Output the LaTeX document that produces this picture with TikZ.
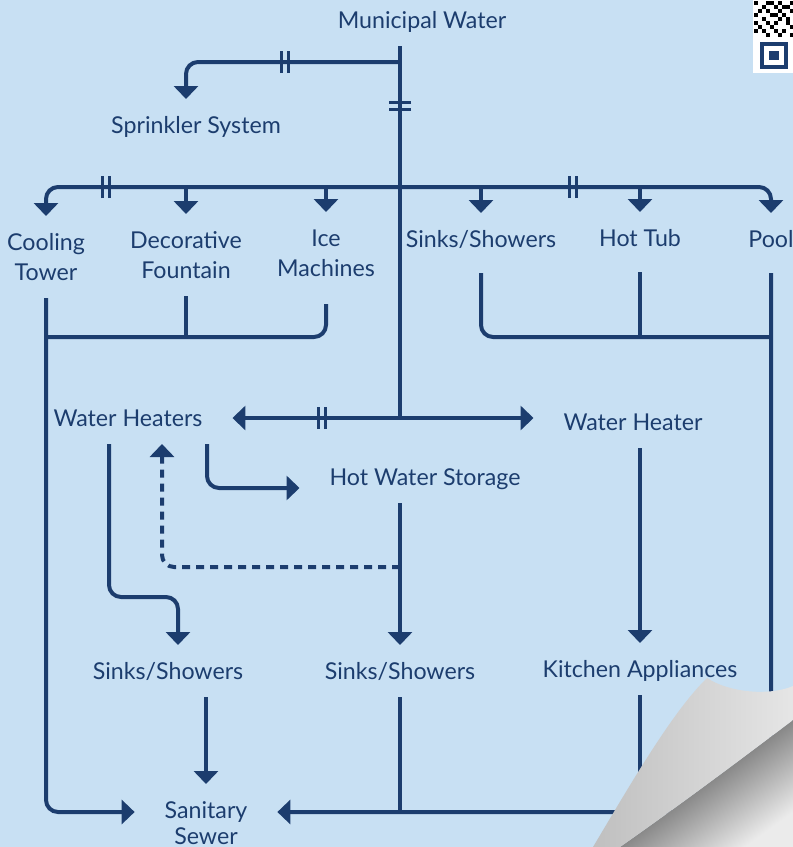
\documentclass[tikz,border=0pt]{standalone}
\usepackage{fontspec}
\setmainfont{Lato}
\usepackage{tikz}
\usetikzlibrary{arrows.meta}

\definecolor{paper}{HTML}{C8E0F3}
\definecolor{navy}{HTML}{1C3D6E}

\begin{document}
\begin{tikzpicture}[x=0.5pt,y=-0.5pt,>={Triangle[width=12pt,length=6.5pt]},
	fixture/.style={text=navy,align=center,inner sep=0pt,outer xsep=15pt,outer ysep=9pt,text height=8pt,text depth=0pt,font=\fontsize{11.6}{15}\selectfont},
	twoline/.style={fixture,text height=23pt},
	pipe/.style={draw=navy,line width=2pt,rounded corners=6pt},
	breaker/.pic={\draw [navy,line width=1.6pt] (-1.8pt,-5.5pt) -- (-1.8pt,5.5pt) (1.8pt,-5.5pt) -- (1.8pt,5.5pt);}]
	
	\path [use as bounding box,fill=paper] (0,0) rectangle (793,847);
	\clip (0,0) rectangle (793,847);
	
	\node (mw) [fixture] at (422,20) {Municipal Water};
	\node (sprinkler) [fixture] at (196,125) {Sprinkler System};
	\node (cooling) [twoline] at (46,257) {Cooling\\Tower};
	\node (fountain) [twoline] at (186,255) {Decorative\\Fountain};
	\node (ice) [twoline] at (326,253) {Ice\\Machines};
	\node (sinksA) [fixture] at (481,239) {Sinks/Showers};
	\node (tub) [fixture] at (640,238) {Hot Tub};
	\node (pool) [fixture] at (771,239) {Pool};
	\node (heaters) [fixture] at (128,418) {Water Heaters};
	\node (heater) [fixture] at (633,422) {Water Heater};
	\node (storage) [fixture] at (425,477) {Hot Water Storage};
	\node (sinksB) [fixture] at (168,671) {Sinks/Showers};
	\node (sinksC) [fixture] at (400,671) {Sinks/Showers};
	\node (kitchen) [fixture] at (640,669) {Kitchen Appliances};
	\node (sewer) [twoline,text height=21pt,font=\fontsize{11.6}{13}\selectfont] at (206,823) {Sanitary\\Sewer};
	
	\coordinate (tee) at (400,62);
	\coordinate (hub) at (400,187);
	\coordinate (split) at (400,418);
	\coordinate (tap) at (400,567);
	\coordinate (jog) at (140,597);
	\coordinate (drainL) at (46,337);
	\coordinate (drainR) at (771,337);
	\coordinate (drainB) at (400,812);
	
	\draw [pipe] (mw.south -| hub) -- (split);
	\draw [pipe,->] (tee) -| ([xshift=-5pt]sprinkler.north);
	\draw [pipe,->] (hub) -| (cooling.north);
	\draw [pipe,->] (hub) -| (pool.north);
	\draw [pipe,->] (hub -| fountain) -- (fountain.north);
	\draw [pipe,->] (hub -| ice) -- (ice.north);
	\draw [pipe,->] (hub -| sinksA) -- (sinksA.north);
	\draw [pipe,->] (hub -| tub) -- (tub.north);
	
	\draw [pipe,->] (cooling.south) |- ([yshift=5.5pt]sewer.west);
	\draw [pipe] (fountain.south) -- (fountain.south |- drainL);
	\draw [pipe] ([yshift=-5pt]ice.south) |- (drainL);
	
	\draw [pipe] ([yshift=-4pt]sinksA.south) |- (drainR);
	\draw [pipe] ([yshift=-4pt]tub.south) -- (tub.south |- drainR);
	\draw [pipe,->] ([yshift=-4pt]pool.south) |- ([yshift=5.5pt]sewer.east);
	
	\draw [pipe,->] (split) -- (split -| heaters.east);
	\draw [pipe,->] (split) -- (split -| heater.west);
	\draw [pipe,->] ([xshift=39.5pt]heaters.south) |- ([yshift=-5.5pt]storage.west);
	\draw [pipe,->,dash pattern=on 4pt off 3pt] (tap) -| ([xshift=17pt]heaters.south);
	\draw [pipe,->] ([xshift=-9.5pt]heaters.south) |- (jog) -| ([xshift=5pt]sinksB.north);
	\draw [pipe,->] (storage.south -| sinksC) -- (sinksC.north);
	\draw [pipe,->] (heater.south -| kitchen) -- (kitchen.north);
	
	\draw [pipe,->] (sinksB.south -| sewer.north) -- (sewer.north);
	\draw [pipe] (sinksC.south) -- (drainB);
	\draw [pipe] (kitchen.south) -- (kitchen.south |- drainB);
	
	\pic [rotate=90] at (400,106) {breaker};
	\pic at (285,62) {breaker};
	\pic at (106,187) {breaker};
	\pic at (573,187) {breaker};
	\pic at (322,418) {breaker};
	
	\fill [white] (753,0) rectangle (793,73);
	\foreach \c/\r in {0/0,3/0,4/0,6/0,9/0,2/1,5/1,7/1,8/1,1/2,3/2,6/2,9/2,0/3,4/3,5/3,7/3,2/4,6/4,8/4,0/5,3/5,5/5,8/5,1/6,4/6,9/6,0/7,2/7,5/7,7/7,3/8,6/8,9/8}
	\fill [black] (754+4*\c,1+4*\r) rectangle +(4,4);
	\fill [navy] (760,42) rectangle (788,69);
	\fill [white] (764,46) rectangle (784,65);
	\fill [navy] (769,51) rectangle (779,60);
	
	\shade [top color=black!85,bottom color=black!8,shading angle=36] (620,847) .. controls (680,805) and (740,760) .. (793,720) -- (793,847) -- cycle;
	\shade [left color=black!25,right color=black!10] (593,847) .. controls (630,785) and (672,712) .. (707,678) .. controls (730,693) and (770,696) .. (793,686) -- (793,720) .. controls (740,760) and (680,805) .. (620,847) -- cycle;
\end{tikzpicture}
\end{document}
